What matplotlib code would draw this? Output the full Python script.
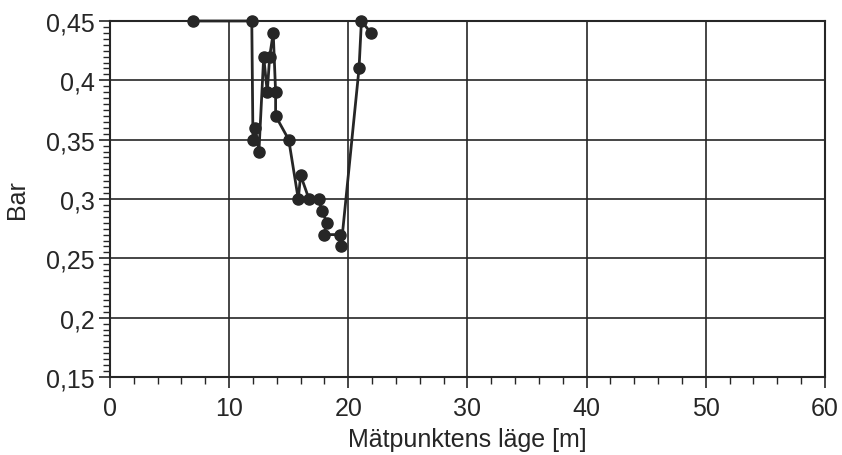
import matplotlib
matplotlib.use("Agg")
import matplotlib.pyplot as plt
from matplotlib.ticker import MultipleLocator, FuncFormatter

# Pressure readings along the measured line
position_m = [7.0, 11.9, 12.0, 12.2, 12.5, 12.9, 13.2, 13.4, 13.7, 13.9, 13.9,
              15.0, 15.8, 16.0, 16.7, 17.5, 17.8, 18.2, 17.95, 19.3, 19.4,
              20.9, 21.1, 21.9]
pressure_bar = [0.45, 0.45, 0.35, 0.36, 0.34, 0.42, 0.39, 0.42, 0.44, 0.39, 0.37,
                0.35, 0.30, 0.32, 0.30, 0.30, 0.29, 0.28, 0.27, 0.27, 0.26,
                0.41, 0.45, 0.44]

x_ticks = [0, 10, 20, 30, 40, 50, 60]
y_ticks = [0.15, 0.2, 0.25, 0.3, 0.35, 0.4, 0.45]

plt.rcParams["font.family"] = ["Liberation Sans", "DejaVu Sans"]

fig = plt.figure(figsize=(8.42, 4.56), dpi=100)
ax = fig.add_axes([0.1306, 0.171, 0.8492, 0.7808])
ink = "#262626"

ax.plot(position_m, pressure_bar, color=ink, lw=2.0, marker="o", ms=8,
        mfc=ink, mec=ink, clip_on=False, zorder=3)

ax.set_xlim(0, 60)
ax.set_ylim(0.15, 0.45)
ax.set_xticks(x_ticks)
ax.set_yticks(y_ticks)
ax.xaxis.set_minor_locator(MultipleLocator(2))
ax.yaxis.set_minor_locator(MultipleLocator(0.005))


def comma(v, pos):
    s = f"{v:.2f}".rstrip("0").rstrip(".")
    return s.replace(".", ",")


ax.yaxis.set_major_formatter(FuncFormatter(comma))
ax.grid(True, which="major", color=ink, lw=1.2)
for s in ax.spines.values():
    s.set_color(ink)
    s.set_linewidth(1.5)

ax.tick_params(which="major", direction="out", length=8, width=1.2,
               color=ink, labelsize=18, labelcolor=ink, pad=3)
ax.tick_params(axis="x", which="major", pad=6)
ax.tick_params(which="minor", direction="out", length=5, width=1.0, color=ink)
ax.tick_params(axis="x", which="both", top=False)
ax.tick_params(axis="y", which="both", right=False)

ax.set_xlabel("Mätpunktens läge [m]", fontsize=18, color=ink, labelpad=5)
ax.set_ylabel("Bar", fontsize=18, color=ink, labelpad=12)

fig.savefig("out.png", dpi=100, facecolor="white")
